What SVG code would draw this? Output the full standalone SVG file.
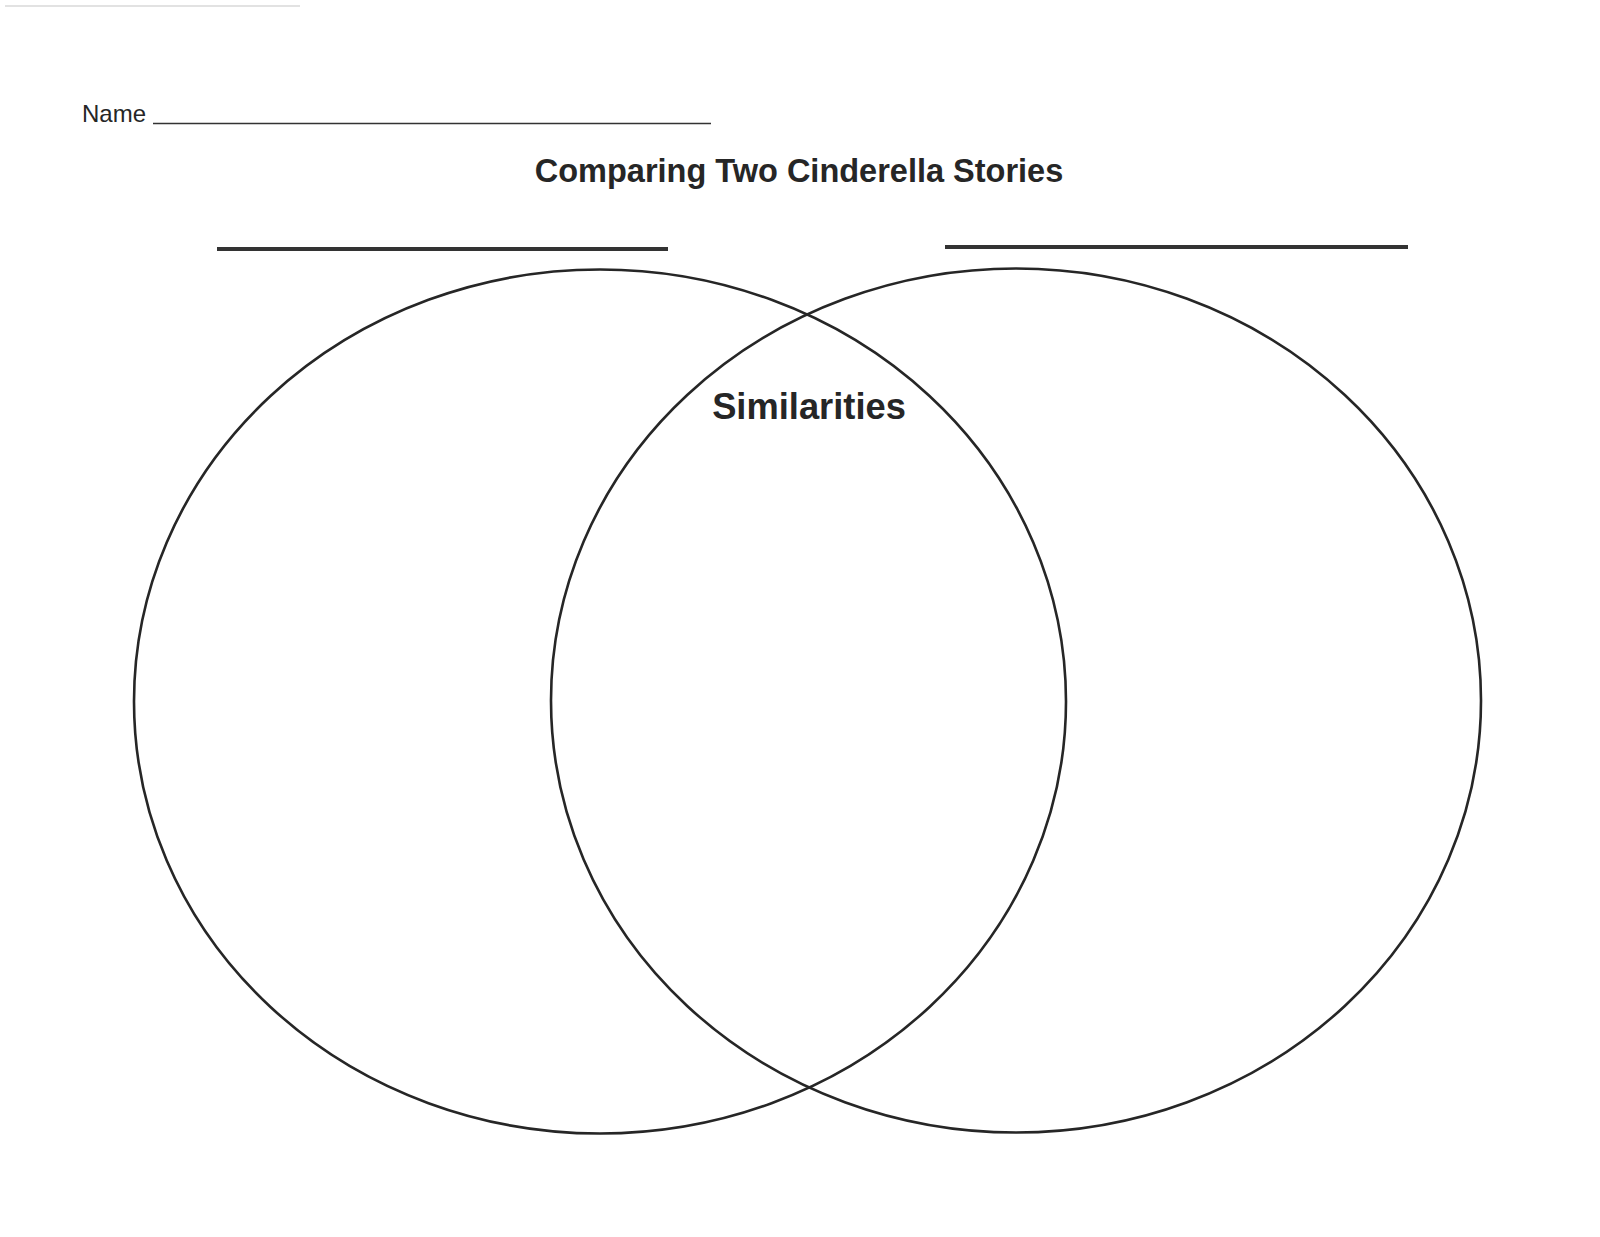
<svg xmlns="http://www.w3.org/2000/svg" width="1600" height="1237" viewBox="0 0 1600 1237">
<style>
.ring{fill:none;stroke:#262626;stroke-width:2.6}
.rule{stroke:#333;stroke-width:4}
.t{font-family:"Liberation Sans",Arial,sans-serif;fill:#262626}
</style>
<rect width="1600" height="1237" fill="#fff"/>
<line x1="5" y1="6" x2="300" y2="6" stroke="#e2e2e2" stroke-width="2"/>
<g id="name">
<text class="t" x="82" y="121.5" font-size="24">Name</text>
<line x1="153" y1="123.5" x2="711" y2="123.5" stroke="#333" stroke-width="1.6"/>
</g>
<g id="title">
<text class="t" x="799" y="181.5" font-size="32.5" font-weight="bold" text-anchor="middle">Comparing Two Cinderella Stories</text>
</g>
<g id="left-label"><line class="rule" x1="217" y1="249" x2="668" y2="249"/></g>
<g id="right-label"><line class="rule" x1="945" y1="247" x2="1408" y2="247"/></g>
<g id="left-circle"><ellipse class="ring" cx="600" cy="701.5" rx="466" ry="432"/></g>
<g id="right-circle"><ellipse class="ring" cx="1016" cy="700.5" rx="465" ry="432"/></g>
<g id="similarities">
<text class="t" x="809" y="418.5" font-size="36.3" font-weight="bold" text-anchor="middle">Similarities</text>
</g>
<g id="connectors"/>
</svg>
